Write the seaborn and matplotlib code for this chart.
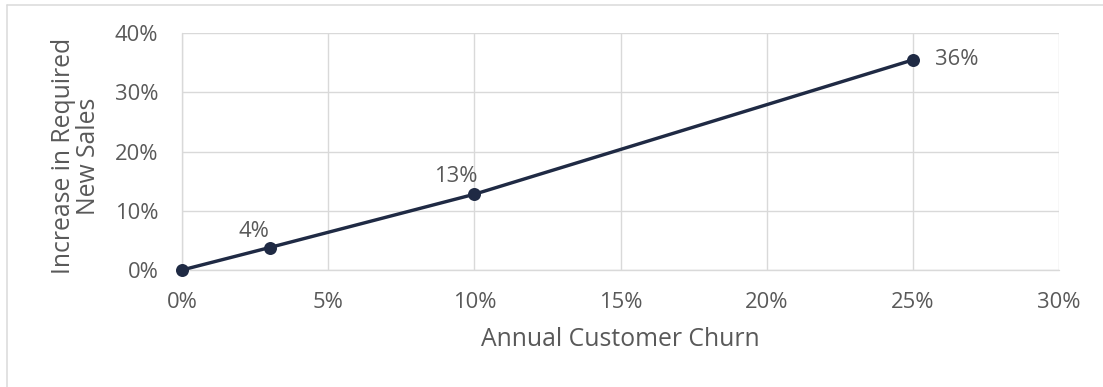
import matplotlib
matplotlib.use("Agg")
import matplotlib.pyplot as plt
from matplotlib.lines import Line2D
from matplotlib.ticker import PercentFormatter
import seaborn as sns
import pandas as pd

# Churn scenarios and the resulting increase in required new sales
churn = [0.0, 0.03, 0.10, 0.25]
increase = [0.0, 0.038, 0.128, 0.355]
x_ticks = [0.0, 0.05, 0.10, 0.15, 0.20, 0.25, 0.30]
y_ticks = [0.0, 0.10, 0.20, 0.30, 0.40]

sns.set_theme(style="white")
plt.rcParams["font.family"] = ["Open Sans", "DejaVu Sans"]

TEXT = "#595959"
GRID = "#d9d9d9"
LINE = "#1f2a44"
PX = 72 / 100  # points per pixel at dpi 100
TICK_FS = 15.8
TITLE_FS = 17.8

df = pd.DataFrame({"churn": churn, "increase": increase})

fig = plt.figure(figsize=(11.03, 3.87), dpi=100)
ax = fig.add_axes([182 / 1103, 1 - 270 / 387, (1059 - 182) / 1103, (270 - 33.3) / 387])

sns.lineplot(data=df, x="churn", y="increase", ax=ax, color=LINE,
             linewidth=3.4 * PX, marker="o", markersize=13 * PX,
             markeredgewidth=0, sort=False, zorder=3)
for line in ax.lines:
    line.set_clip_on(False)

ax.set_xlim(0, 0.30)
ax.set_ylim(0, 0.40)
ax.set_xticks(x_ticks)
ax.set_yticks(y_ticks)
ax.xaxis.set_major_formatter(PercentFormatter(1.0, decimals=0))
ax.yaxis.set_major_formatter(PercentFormatter(1.0, decimals=0))
ax.tick_params(axis="both", length=0, labelsize=TICK_FS, labelcolor=TEXT)
ax.tick_params(axis="x", pad=16)
ax.tick_params(axis="y", pad=17)

ax.grid(True, color=GRID, linewidth=1.4 * PX)
for side in ["top", "right", "left", "bottom"]:
    ax.spines[side].set_visible(False)
ax.set_axisbelow(True)
ax.plot([0, 0], [0, 0.40], color=GRID, linewidth=1.4 * PX, zorder=1, clip_on=False)
ax.plot([0, 0.30], [0, 0], color=GRID, linewidth=1.4 * PX, zorder=1, clip_on=False)

ax.set_xlabel("Annual Customer Churn", fontsize=TITLE_FS, color=TEXT)
ax.xaxis.set_label_coords(0.5, -(340 - 270) / 237)
ax.xaxis.label.set_va("center")
ax.set_ylabel("Increase in Required\nNew Sales", fontsize=TITLE_FS, color=TEXT,
              linespacing=0.95)
ax.yaxis.set_label_coords(-(182 - 76) / 877, (270 - 156) / 237)
ax.yaxis.label.set_va("center")

# Value labels
offsets = [None, (-16, 16, "center"), (-19, 18, "center"), (22, 0, "left")]
for x, y, off in zip(churn, increase, offsets):
    if off is None:
        continue
    dx, dy, ha = off
    ax.annotate(f"{round(y * 100)}%", (x, y), xytext=(dx * PX, dy * PX),
                textcoords="offset points", ha=ha, va="center",
                fontsize=TICK_FS, color=TEXT)

# Chart frame lines along the top and left edges
fig.add_artist(Line2D([7 / 1103, 7 / 1103], [1 - 5 / 387, 0], color=GRID,
                      linewidth=1.5 * PX, transform=fig.transFigure))
fig.add_artist(Line2D([7 / 1103, 1], [1 - 5 / 387, 1 - 5 / 387], color=GRID,
                      linewidth=1.5 * PX, transform=fig.transFigure))

fig.savefig("out.png", dpi=100, facecolor="white")
